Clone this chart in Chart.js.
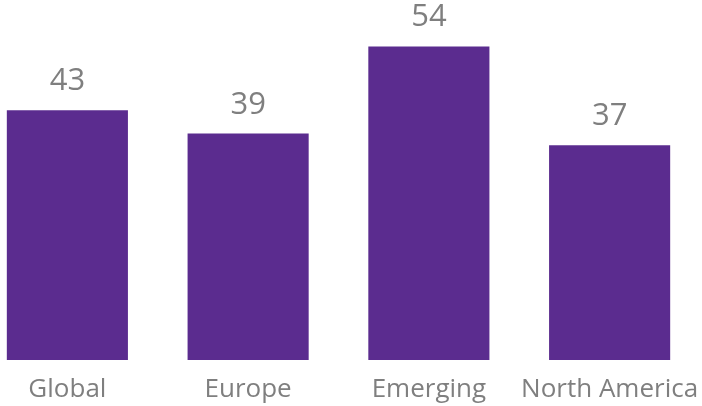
<!DOCTYPE html>
<html>
<head>
<meta charset="utf-8">
<script src="https://cdn.jsdelivr.net/npm/chart.js@4/dist/chart.umd.min.js"></script>
<style>
  html, body { margin: 0; padding: 0; background: #fff; overflow: hidden; }
  #wrap { position: absolute; left: -23px; top: 0; width: 723px; height: 406px; }
</style>
</head>
<body>
<div id="wrap"><canvas id="grafico"></canvas></div>
<script>
// dados
const categorias = ["Global", "Europe", "Emerging", "North America"];
const valores = [43, 39, 54, 37];

const corBarra = "#5B2C8F";
const corTexto = "#7F7F7F";

// rotulos de valor acima das barras
const rotulosValor = {
  id: "rotulosValor",
  afterDatasetsDraw(chart) {
    const ctx = chart.ctx;
    const meta = chart.getDatasetMeta(0);
    ctx.save();
    ctx.fillStyle = corTexto;
    ctx.font = "31px 'Open Sans', sans-serif";
    ctx.textAlign = "center";
    ctx.textBaseline = "alphabetic";
    meta.data.forEach((bar, i) => {
      ctx.fillText(String(valores[i]), bar.x, bar.y - 20);
    });
    ctx.restore();
  }
};

new Chart(document.getElementById("grafico"), {
  type: "bar",
  data: {
    labels: categorias,
    datasets: [{
      data: valores,
      backgroundColor: corBarra,
      categoryPercentage: 1,
      barPercentage: 0.67
    }]
  },
  options: {
    responsive: true,
    maintainAspectRatio: false,
    animation: false,
    layout: { padding: { top: 0, bottom: 0, left: 0, right: 0 } },
    plugins: {
      legend: { display: false },
      tooltip: { enabled: false }
    },
    scales: {
      x: {
        grid: { display: false, drawTicks: false },
        border: { display: false },
        afterFit: scale => {
          // nao deixar o rotulo "North America" encolher a area
          scale.paddingLeft = 0;
          scale.paddingRight = 0;
          scale.height = 46;
        },
        ticks: {
          color: corTexto,
          padding: 14,
          maxRotation: 0,
          autoSkip: false,
          font: { family: "'Open Sans', sans-serif", size: 26 }
        }
      },
      y: {
        display: false,
        min: 0,
        max: 62
      }
    }
  },
  plugins: [rotulosValor]
});
</script>
</body>
</html>
